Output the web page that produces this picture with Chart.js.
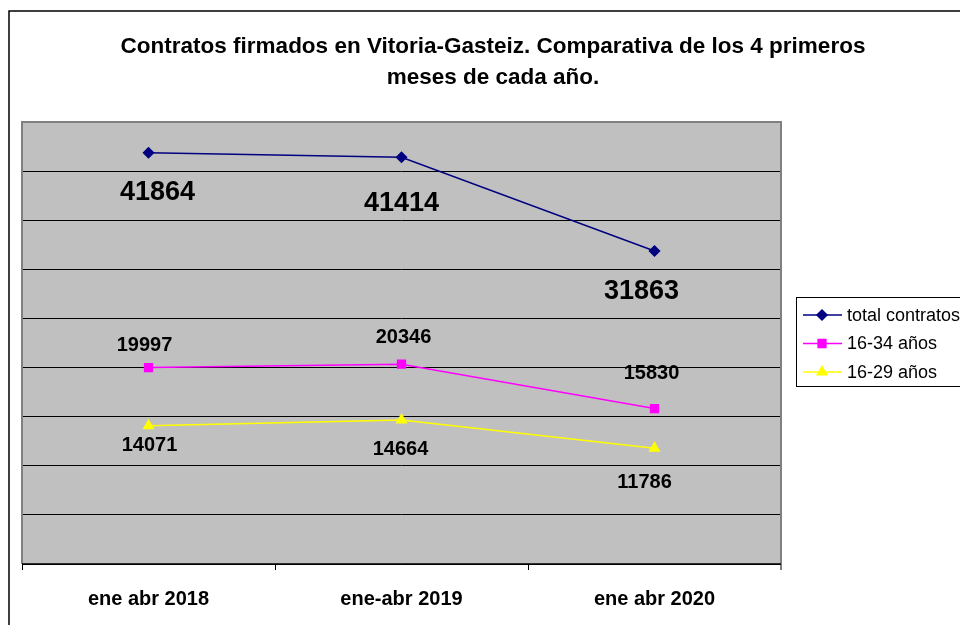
<!DOCTYPE html>
<html>
<head>
<meta charset="utf-8">
<script src="https://cdn.jsdelivr.net/npm/chart.js@4/dist/chart.umd.min.js"></script>
<style>
  html, body { margin: 0; padding: 0; background: #fff; overflow: hidden; }
  canvas { display: block; }
</style>
</head>
<body>
<canvas id="chart" width="1000" height="640"></canvas>
<script>
const categories = ['ene abr 2018', 'ene-abr 2019', 'ene abr 2020'];
const seriesNames = ['total contratos', '16-34 años', '16-29 años'];
const totalContratos = [41864, 41414, 31863];
const contratos16a34 = [19997, 20346, 15830];
const contratos16a29 = [14071, 14664, 11786];
const titleLines = ['Contratos firmados en Vitoria-Gasteiz. Comparativa de los 4 primeros', 'meses de cada año.'];
const yMin = 0, yMax = 45000, yStep = 5000;

const FONT = '"Liberation Sans", Arial, sans-serif';

// value labels, legend, title and frame drawn by hand
const decorPlugin = {
    id: 'decor',
    beforeDraw(chart) {
        const ctx = chart.ctx;
        const a = chart.chartArea;
        ctx.save();
        ctx.fillStyle = '#fff';
        ctx.fillRect(0, 0, chart.width, chart.height);
        // outer frame (runs off the right and bottom edges)
        ctx.strokeStyle = '#000';
        ctx.lineWidth = 1.5;
        ctx.beginPath();
        ctx.moveTo(9, chart.height);
        ctx.lineTo(9, 11);
        ctx.lineTo(chart.width, 11);
        ctx.stroke();
        ctx.fillStyle = '#c0c0c0';
        ctx.fillRect(a.left, a.top, a.right - a.left, a.bottom - a.top);
        ctx.restore();
    },
    beforeDatasetsDraw(chart) {
        const ctx = chart.ctx;
        const a = chart.chartArea;
        ctx.save();
        ctx.strokeStyle = '#808080';
        ctx.lineWidth = 2;
        ctx.beginPath();
        ctx.moveTo(a.left, a.bottom);
        ctx.lineTo(a.left, a.top);
        ctx.lineTo(a.right, a.top);
        ctx.lineTo(a.right, a.bottom + 6);
        ctx.stroke();
        ctx.strokeStyle = '#000';
        ctx.lineWidth = 1.5;
        ctx.beginPath();
        ctx.moveTo(a.left, a.bottom);
        ctx.lineTo(a.right, a.bottom);
        ctx.stroke();
        ctx.restore();
    },
    afterDraw(chart) {
        const ctx = chart.ctx;
        ctx.save();
        // title
        ctx.fillStyle = '#000';
        ctx.textAlign = 'center';
        ctx.textBaseline = 'middle';
        ctx.font = 'bold 22.5px ' + FONT;
        ctx.fillText(titleLines[0], 493, 47);
        ctx.fillText(titleLines[1], 493, 78);

        // value labels
        chart.data.datasets.forEach((ds, i) => {
            const meta = chart.getDatasetMeta(i);
            ctx.font = 'bold ' + ds.labelSize + 'px ' + FONT;
            meta.data.forEach((pt, j) => {
                ctx.fillText(String(ds.data[j]), pt.x + ds.labelDx[j], pt.y + ds.labelDy[j]);
            });
        });

        // legend box
        ctx.strokeStyle = '#000';
        ctx.lineWidth = 1;
        ctx.strokeRect(796.5, 297.5, 300, 89);
        ctx.font = '18px ' + FONT;
        ctx.textAlign = 'left';
        chart.data.datasets.forEach((ds, i) => {
            const y = 315 + i * 28.5;
            ctx.strokeStyle = ds.borderColor;
            ctx.lineWidth = 1.5;
            ctx.beginPath();
            ctx.moveTo(803, y);
            ctx.lineTo(842, y);
            ctx.stroke();
            Chart.helpers.drawPoint(ctx, {
                pointStyle: ds.pointStyle,
                radius: ds.pointRadius,
                borderWidth: 1
            }, 822, y);
            ctx.fillStyle = ds.pointBackgroundColor;
            ctx.strokeStyle = ds.pointBorderColor;
            ctx.fill();
            ctx.fillStyle = '#000';
            ctx.fillText(ds.label, 847, y + 1);
        });
        ctx.restore();
    }
};

new Chart(document.getElementById('chart').getContext('2d'), {
    type: 'line',
    data: {
        labels: categories,
        datasets: [{
            label: seriesNames[0],
            data: totalContratos,
            borderColor: '#000080',
            backgroundColor: '#000080',
            pointBackgroundColor: '#000080',
            pointBorderColor: '#000080',
            pointStyle: 'rectRot',
            pointRadius: 5,
            borderWidth: 1.5,
            labelSize: 27,
            labelDx: [9, 0, -13],
            labelDy: [40, 46, 41]
        }, {
            label: seriesNames[1],
            data: contratos16a34,
            borderColor: '#ff00ff',
            backgroundColor: '#ff00ff',
            pointBackgroundColor: '#ff00ff',
            pointBorderColor: '#ff00ff',
            pointStyle: 'rect',
            pointRadius: 5.5,
            borderWidth: 1.5,
            labelSize: 20,
            labelDx: [-4, 2, -3],
            labelDy: [-22, -27, -35]
        }, {
            label: seriesNames[2],
            data: contratos16a29,
            borderColor: '#ffff00',
            backgroundColor: '#ffff00',
            pointBackgroundColor: '#ffff00',
            pointBorderColor: '#ffff00',
            pointStyle: 'triangle',
            pointRadius: 5.5,
            borderWidth: 1.5,
            labelSize: 20,
            labelDx: [1, -1, -10],
            labelDy: [20, 30, 34]
        }]
    },
    options: {
        responsive: false,
        animation: false,
        layout: {
            padding: { left: 22, top: 122, right: 219, bottom: 12 }
        },
        plugins: {
            legend: { display: false },
            title: { display: false },
            tooltip: { enabled: false }
        },
        scales: {
            x: {
                offset: true,
                grid: {
                    offset: true,
                    drawOnChartArea: false,
                    drawTicks: true,
                    tickLength: 6,
                    color: '#000',
                    lineWidth: 1
                },
                border: { display: false },
                ticks: {
                    color: '#000',
                    padding: 17,
                    maxRotation: 0,
                    font: { family: FONT, size: 20, weight: 'bold' }
                }
            },
            y: {
                min: yMin,
                max: yMax,
                grid: { color: '#000', lineWidth: 1, drawTicks: false },
                border: { display: false },
                ticks: { display: false, stepSize: yStep }
            }
        }
    },
    plugins: [decorPlugin]
});
</script>
</body>
</html>
